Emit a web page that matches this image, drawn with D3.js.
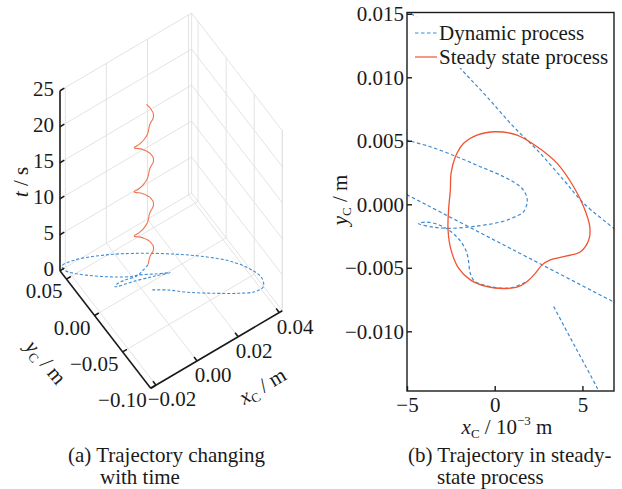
<!DOCTYPE html>
<html>
<head>
<meta charset="utf-8">
<script src="https://cdn.jsdelivr.net/npm/d3@7"></script>
<style>
  html, body { margin: 0; padding: 0; background: #fff; }
  svg { display: block; }
</style>
</head>
<body>
<svg id="chart" width="622" height="489"></svg>
<script>
"use strict";

/* ── Data ─────────────────────────────────────────────── */
// (a) 3-D view: xc [m], yc [m], t [s]
const Z_TICKS  = [0, 5, 10, 15, 20, 25];
const X3_TICKS = [-0.02, 0.00, 0.02, 0.04];
const Y3_TICKS = [-0.10, -0.05, 0.00, 0.05];

const dynamic3d = [
  [0.00336, -0.00805, 0.00], [0.00847, -0.01724, 0.06], [0.01444, -0.03103, 0.13],
  [0.02307, -0.04754, 0.21], [0.03064, -0.06082, 0.28], [0.03663, -0.06918, 0.34],
  [0.04061, -0.06942, 0.39], [0.04225, -0.06111, 0.44], [0.04094, -0.04811, 0.50],
  [0.03625, -0.02962, 0.57], [0.02836, -0.01041, 0.65], [0.01785, 0.00996, 0.73],
  [0.00650, 0.02901, 0.81], [-0.00513, 0.04522, 0.89], [-0.01662, 0.05667, 0.97],
  [-0.02263, 0.05782, 1.03], [-0.02286, 0.05164, 1.07], [-0.02040, 0.04283, 1.13],
  [-0.01448, 0.02886, 1.20], [-0.00817, 0.01631, 1.27], [-0.00257, 0.00707, 1.33],
  [-0.00002, 0.00462, 1.36], [0.00568, -0.00428, 1.44], [0.01089, -0.01194, 1.52],
  [0.00483, -0.00739, 1.62], [-0.00339, -0.00180, 1.74], [-0.01178, 0.00314, 1.86],
  [-0.01004, 0.00413, 1.94], [-0.00705, 0.00261, 2.05], [-0.00266, -0.00217, 2.35],
  [-0.00090, -0.00463, 2.90], [0.00185, -0.00608, 3.59]
];

const steady3d = [
  [0.00185, -0.00608, 3.59], [0.00232, -0.00542, 3.82], [0.00270, -0.00477, 4.04],
  [0.00317, -0.00438, 4.27], [0.00393, -0.00412, 4.50], [0.00489, -0.00373, 4.73],
  [0.00536, -0.00281, 4.95], [0.00542, -0.00176, 5.18], [0.00507, -0.00019, 5.41],
  [0.00450, 0.00138, 5.64], [0.00356, 0.00322, 5.86], [0.00242, 0.00453, 6.09],
  [0.00127, 0.00545, 6.32], [0.00004, 0.00571, 6.54], [-0.00101, 0.00545, 6.77],
  [-0.00177, 0.00480, 7.00], [-0.00224, 0.00374, 7.22], [-0.00249, 0.00244, 7.45],
  [-0.00253, 0.00112, 7.68], [-0.00263, -0.00045, 7.91], [-0.00266, -0.00202, 8.13],
  [-0.00249, -0.00359, 8.36], [-0.00206, -0.00503, 8.59], [-0.00139, -0.00595, 8.81],
  [-0.00044, -0.00648, 9.04], [0.00051, -0.00663, 9.27], [0.00127, -0.00653, 9.49],
  [0.00185, -0.00608, 9.72], [0.00232, -0.00542, 9.95], [0.00270, -0.00477, 10.18],
  [0.00317, -0.00438, 10.40], [0.00393, -0.00412, 10.63], [0.00489, -0.00373, 10.86],
  [0.00536, -0.00281, 11.08], [0.00542, -0.00176, 11.31], [0.00507, -0.00019, 11.54],
  [0.00450, 0.00138, 11.77], [0.00356, 0.00322, 11.99], [0.00242, 0.00453, 12.22],
  [0.00127, 0.00545, 12.45], [0.00004, 0.00571, 12.67], [-0.00101, 0.00545, 12.90],
  [-0.00177, 0.00480, 13.13], [-0.00224, 0.00374, 13.35], [-0.00249, 0.00244, 13.58],
  [-0.00253, 0.00112, 13.81], [-0.00263, -0.00045, 14.04], [-0.00266, -0.00202, 14.26],
  [-0.00249, -0.00359, 14.49], [-0.00206, -0.00503, 14.72], [-0.00139, -0.00595, 14.94],
  [-0.00044, -0.00648, 15.17], [0.00051, -0.00663, 15.40], [0.00127, -0.00653, 15.62],
  [0.00185, -0.00608, 15.85], [0.00232, -0.00542, 16.08], [0.00270, -0.00477, 16.31],
  [0.00317, -0.00438, 16.53], [0.00393, -0.00412, 16.76], [0.00489, -0.00373, 16.99],
  [0.00536, -0.00281, 17.21], [0.00542, -0.00176, 17.44], [0.00507, -0.00019, 17.67],
  [0.00450, 0.00138, 17.90], [0.00356, 0.00322, 18.12], [0.00242, 0.00453, 18.35],
  [0.00127, 0.00545, 18.58], [0.00004, 0.00571, 18.80], [-0.00101, 0.00545, 19.03],
  [-0.00177, 0.00480, 19.26], [-0.00224, 0.00374, 19.48], [-0.00249, 0.00244, 19.71],
  [-0.00253, 0.00112, 19.94], [-0.00263, -0.00045, 20.17], [-0.00266, -0.00202, 20.39],
  [-0.00249, -0.00359, 20.62], [-0.00206, -0.00503, 20.85], [-0.00139, -0.00595, 21.07],
  [-0.00044, -0.00648, 21.30], [0.00051, -0.00663, 21.53], [0.00127, -0.00653, 21.75],
  [0.00185, -0.00608, 21.98], [0.00232, -0.00542, 22.21], [0.00270, -0.00477, 22.44],
  [0.00317, -0.00438, 22.66], [0.00393, -0.00412, 22.89], [0.00489, -0.00373, 23.12],
  [0.00536, -0.00281, 23.34], [0.00542, -0.00176, 23.60], [0.00507, -0.00019, 23.90],
  [0.00450, 0.00138, 24.25], [0.00356, 0.00322, 24.60]
];

// (b) steady-state view: xc [10^-3 m], yc [m]
const XB_TICKS = [-5, 0, 5];
const YB_TICKS = [-0.010, -0.005, 0.000, 0.005, 0.010, 0.015];

const steadyLoop = [
  [0.04, 0.00571], [1.27, 0.00545], [2.42, 0.00453], [3.56, 0.00322], [4.50, 0.00138],
  [5.07, -0.00019], [5.42, -0.00176], [5.36, -0.00281], [4.89, -0.00373], [3.93, -0.00412],
  [3.17, -0.00438], [2.70, -0.00477], [2.32, -0.00542], [1.85, -0.00608], [1.27, -0.00653],
  [0.51, -0.00663], [-0.44, -0.00648], [-1.39, -0.00595], [-2.06, -0.00503], [-2.49, -0.00359],
  [-2.66, -0.00202], [-2.63, -0.00045], [-2.53, 0.00112], [-2.49, 0.00244], [-2.24, 0.00374],
  [-1.77, 0.00480], [-1.01, 0.00545]
];

// pieces of the dynamic trajectory that cross the window
const dynStart = [[3.36, -0.00805], [4.60, -0.01126], [5.84, -0.01447], [6.20, -0.01560]];
const dynSwing = [
  [-5.40, 0.01540], [-4.62, 0.01488], [-1.86, 0.01056], [-0.44, 0.00846], [1.08, 0.00610],
  [2.42, 0.00427], [3.93, 0.00191], [5.07, 0.00008], [6.88, -0.00202], [7.30, -0.00260]
];
const dynReturn = [[7.30, -0.00806], [1.00, -0.00355], [-5.50, 0.00111]];
const dynSettle = [
  [-5.40, 0.00530], [-4.97, 0.00505], [-3.67, 0.00453], [-2.15, 0.00374], [-0.82, 0.00296],
  [0.51, 0.00217], [1.46, 0.00138], [1.80, 0.00070], [1.85, 0.00015], [1.65, -0.00058],
  [1.18, -0.00097], [0.42, -0.00137], [-1.29, -0.00176], [-2.63, -0.00189], [-3.60, -0.00178],
  [-4.35, -0.00152], [-3.90, -0.00140], [-3.20, -0.00160], [-2.50, -0.00215], [-1.95, -0.00290],
  [-1.62, -0.00370], [-1.49, -0.00450], [-1.40, -0.00540], [-1.15, -0.00605], [-0.50, -0.00640],
  [0.30, -0.00660], [1.00, -0.00655], [1.85, -0.00608]
];

(function () {
  const FONT = '"Liberation Serif", "Times New Roman", Times, serif';
  const FS = 21;
  const INK = "#1a1a1a";
  const BLUE = "#3d8bd3";
  const RED = "#f0532f";

  const svg = d3.select("#chart")
    .attr("font-family", FONT)
    .attr("font-size", FS);

  const seg = (g, p, q) => g.append("line")
    .attr("x1", p[0]).attr("y1", p[1]).attr("x2", q[0]).attr("y2", q[1]);

  /* text with italic variable, sub/superscripts */
  function richText(g, parts) {
    const t = g.append("text");
    parts.forEach((p) => {
      const s = t.append("tspan").text(p.t);
      if (p.i) s.attr("font-style", "italic");
      if (p.sub) s.attr("font-size", 13).attr("dy", 4);
      if (p.sup) s.attr("font-size", 13).attr("dy", -9);
      if (p.back) s.attr("dy", p.back);
    });
    return t;
  }

  /* ── (a) 3-D trajectory ─────────────────────────────── */
  const O3 = [150.7, 388.3];
  const UX = [131.6, -77.6];
  const UY = [-90.7, -117.6];
  const UZ = [0, -180];

  const sx3 = d3.scaleLinear().domain([-0.0226, 0.0415]).range([0, 1]);
  const sy3 = d3.scaleLinear().domain([-0.100, 0.0615]).range([0, 1]);
  const sz3 = d3.scaleLinear().domain([0, 25]).range([0, 1]);
  const [X0, X1] = sx3.domain();
  const [Y0, Y1] = sy3.domain();
  const [Z0, Z1] = sz3.domain();

  function proj(x, y, z) {
    const a = sx3(x), b = sy3(y), c = sz3(z);
    return [O3[0] + UX[0] * a + UY[0] * b + UZ[0] * c,
            O3[1] + UX[1] * a + UY[1] * b + UZ[1] * c];
  }
  const unit = (v) => { const l = Math.hypot(v[0], v[1]); return [v[0] / l, v[1] / l]; };

  const gA = svg.append("g");

  /* grid on back walls and floor */
  const grid = gA.append("g")
    .attr("stroke", "#e0e0e0").attr("stroke-width", 0.9).attr("fill", "none");
  X3_TICKS.concat([X1]).forEach((x) => seg(grid, proj(x, Y1, Z0), proj(x, Y1, Z1)));
  Z_TICKS.forEach((z) => seg(grid, proj(X0, Y1, z), proj(X1, Y1, z)));
  Y3_TICKS.concat([Y0]).forEach((y) => seg(grid, proj(X1, y, Z0), proj(X1, y, Z1)));
  Z_TICKS.forEach((z) => seg(grid, proj(X1, Y0, z), proj(X1, Y1, z)));
  X3_TICKS.forEach((x) => seg(grid, proj(x, Y0, Z0), proj(x, Y1, Z0)));
  Y3_TICKS.forEach((y) => seg(grid, proj(X0, y, Z0), proj(X1, y, Z0)));

  /* curves */
  const line2 = d3.line().curve(d3.curveCatmullRom);
  gA.append("path")
    .attr("d", line2(dynamic3d.map((d) => proj(d[0], d[1], d[2]))))
    .attr("fill", "none").attr("stroke", BLUE)
    .attr("stroke-width", 1.1).attr("stroke-dasharray", "3,2");
  gA.append("path")
    .attr("d", line2(steady3d.map((d) => proj(d[0], d[1], d[2]))))
    .attr("fill", "none").attr("stroke", "#ef7450").attr("stroke-width", 1.1);

  /* axes */
  const axes = gA.append("g")
    .attr("stroke", INK).attr("stroke-width", 1.6).attr("fill", "none");
  seg(axes, proj(X0, Y1, Z0), proj(X0, Y1, Z1));
  seg(axes, proj(X0, Y0, Z0), proj(X0, Y1, Z0));
  seg(axes, proj(X0, Y0, Z0), proj(X1, Y0, Z0));

  const TK = 5, dX = unit(UX), dY = unit(UY);
  const tick = (p, d) => seg(axes, p, [p[0] + d[0] * TK, p[1] + d[1] * TK]);
  Z_TICKS.forEach((z) => tick(proj(X0, Y1, z), dX));
  Y3_TICKS.forEach((y) => tick(proj(X0, y, Z0), dX));
  X3_TICKS.forEach((x) => tick(proj(x, Y0, Z0), dY));

  const f2 = d3.format(".2f");
  const labA = gA.append("g").attr("fill", INK);
  Z_TICKS.forEach((z) => {
    const p = proj(X0, Y1, z);
    labA.append("text").attr("x", p[0] - 6).attr("y", p[1] - 2).attr("dy", "0.34em")
      .attr("text-anchor", "end").text(z);
  });
  Y3_TICKS.forEach((y) => {
    const p = proj(X0, y, Z0);
    labA.append("text").attr("x", p[0] - 4).attr("y", p[1] + 12).attr("dy", "0.34em")
      .attr("text-anchor", "end").text(f2(y));
  });
  X3_TICKS.forEach((x) => {
    const p = proj(x, Y0, Z0);
    labA.append("text").attr("x", p[0] + 16).attr("y", p[1] + 14).attr("dy", "0.34em")
      .attr("text-anchor", "middle").text(f2(x));
  });

  richText(labA, [{ t: "t", i: true }, { t: " / s" }])
    .attr("text-anchor", "middle").attr("transform", "translate(28,182) rotate(-90)");
  richText(labA, [{ t: "y", i: true }, { t: "C", sub: true }, { t: " / m", back: -4 }])
    .attr("text-anchor", "middle").attr("dy", "0.34em")
    .attr("transform", "translate(46,362) rotate(50)");
  richText(labA, [{ t: "x", i: true }, { t: "C", sub: true }, { t: " / m", back: -4 }])
    .attr("text-anchor", "middle")
    .attr("transform", "translate(266,392) rotate(-31)");

  /* ── (b) steady-state window ────────────────────────── */
  const xb = d3.scaleLinear().domain([-5, 6.8]).range([407, 614]);
  const yb = d3.scaleLinear().domain([-0.0147, 0.0151]).range([391, 12.5]);
  const [bx0, bx1] = xb.range();
  const [by0, by1] = yb.range();

  const gB = svg.append("g");
  svg.append("defs").append("clipPath").attr("id", "clipB")
    .append("rect").attr("x", bx0).attr("y", by1)
    .attr("width", bx1 - bx0).attr("height", by0 - by1);

  const lineB = d3.line().x((d) => xb(d[0])).y((d) => yb(d[1])).curve(d3.curveCatmullRom);
  const plot = gB.append("g").attr("clip-path", "url(#clipB)");
  [dynStart, dynSwing, dynReturn, dynSettle].forEach((s) => {
    plot.append("path").attr("d", lineB(s))
      .attr("fill", "none").attr("stroke", BLUE)
      .attr("stroke-width", 1.2).attr("stroke-dasharray", "3.5,2.5");
  });
  plot.append("path")
    .attr("d", d3.line().x((d) => xb(d[0])).y((d) => yb(d[1]))
      .curve(d3.curveCatmullRomClosed)(steadyLoop))
    .attr("fill", "none").attr("stroke", RED).attr("stroke-width", 1.3);

  /* legend (opaque box, no border) */
  const leg = gB.append("g");
  leg.append("rect").attr("x", 411).attr("y", 17).attr("width", 201).attr("height", 51)
    .attr("fill", "#fff");
  const LEG = [
    { label: "Dynamic process", color: BLUE, dash: "3.5,2.5", y: 33 },
    { label: "Steady state process", color: RED, dash: null, y: 57 }
  ];
  LEG.forEach((d) => {
    leg.append("line").attr("x1", 415).attr("x2", 437).attr("y1", d.y).attr("y2", d.y)
      .attr("stroke", d.color).attr("stroke-width", 1.2)
      .attr("stroke-dasharray", d.dash);
    leg.append("text").attr("x", 439).attr("y", d.y).attr("dy", "0.32em")
      .attr("fill", INK).text(d.label);
  });

  /* axes */
  const styleAxis = (g) => {
    g.select(".domain").remove();
    g.attr("font-family", FONT).attr("font-size", FS);
    g.selectAll(".tick line").attr("stroke", INK).attr("stroke-width", 1.4);
    g.selectAll(".tick text").attr("fill", INK);
  };
  gB.append("g").attr("transform", `translate(${bx0},0)`)
    .call(d3.axisLeft(yb).tickValues(YB_TICKS).tickFormat(d3.format(".3f"))
      .tickSizeInner(-5).tickSizeOuter(0).tickPadding(3))
    .call(styleAxis);
  gB.append("g").attr("transform", `translate(0,${by0})`)
    .call(d3.axisBottom(xb).tickValues(XB_TICKS).tickFormat(d3.format("d"))
      .tickSizeInner(-5).tickSizeOuter(0).tickPadding(6))
    .call(styleAxis);

  gB.append("rect").attr("x", bx0).attr("y", by1)
    .attr("width", bx1 - bx0).attr("height", by0 - by1)
    .attr("fill", "none").attr("stroke", INK).attr("stroke-width", 1.4);

  const labB = gB.append("g").attr("fill", INK);
  richText(labB, [{ t: "x", i: true }, { t: "C", sub: true }, { t: " / 10", back: -4 },
                  { t: "−3", sup: true }, { t: " m", back: 9 }])
    .attr("text-anchor", "middle").attr("x", 507).attr("y", 434);
  richText(labB, [{ t: "y", i: true }, { t: "C", sub: true }, { t: " / m", back: -4 }])
    .attr("text-anchor", "middle").attr("transform", "translate(347,200) rotate(-90)");

  /* ── captions ───────────────────────────────────────── */
  const cap = svg.append("g").attr("fill", INK);
  cap.append("text").attr("x", 68).attr("y", 462).text("(a) Trajectory changing");
  cap.append("text").attr("x", 100).attr("y", 484).text("with time");
  cap.append("text").attr("x", 408).attr("y", 462).text("(b) Trajectory in steady-");
  cap.append("text").attr("x", 437).attr("y", 484).text("state process");
})();
</script>
</body>
</html>
